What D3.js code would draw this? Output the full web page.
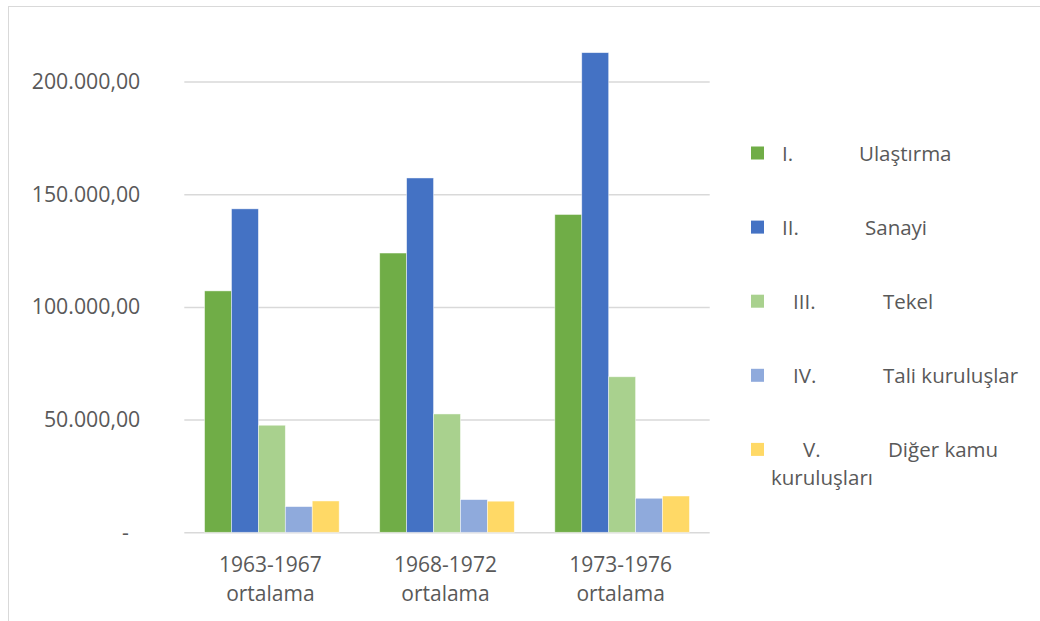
<!DOCTYPE html>
<html>
<head>
<meta charset="utf-8">
<script src="https://cdn.jsdelivr.net/npm/d3@7"></script>
<style>
  html, body { margin: 0; padding: 0; background: #fff; }
  svg { display: block; }
  text { font-family: "Open Sans", "Noto Sans", sans-serif; fill: #595959; }
</style>
</head>
<body>
<svg id="chart" width="1040" height="621"></svg>
<script>
// Periods on the x axis (two-line labels)
const categories = ["1963-1967 ortalama", "1968-1972 ortalama", "1973-1976 ortalama"];
const categoryLines = [["1963-1967", "ortalama"], ["1968-1972", "ortalama"], ["1973-1976", "ortalama"]];

// Series
const seriesKeys = ["ulastirma", "sanayi", "tekel", "tali", "diger"];
const seriesNumerals = ["I.", "II.", "III.", "IV.", "V."];
const seriesNames = ["Ulaştırma", "Sanayi", "Tekel", "Tali kuruluşlar", "Diğer kamu"];
const seriesColors = ["#70ad47", "#4472c4", "#a9d18e", "#8faadc", "#ffd966"];

// Values per period
const ulastirma = [107100, 123900, 141000];
const sanayi    = [143500, 157200, 212800];
const tekel     = [47500, 52500, 69000];
const tali      = [11400, 14500, 15100];
const diger     = [13900, 13800, 16100];

const yTicks = [0, 50000, 100000, 150000, 200000];

const valuesByKey = { ulastirma, sanayi, tekel, tali, diger };

const svg = d3.select("#chart");

// Chart area border
svg.append("rect")
  .attr("x", 8.5).attr("y", 6.5)
  .attr("width", 1100).attr("height", 700)
  .attr("fill", "none").attr("stroke", "#d9d9d9").attr("stroke-width", 1);

const plot = { left: 184.3, right: 709.7, top: 81.5, bottom: 532.3 };

const y = d3.scaleLinear().domain([0, 200000]).range([plot.bottom, plot.top]);

const x0 = d3.scaleBand()
  .domain(categories)
  .range([plot.left, plot.right])
  .paddingInner(0.2314)
  .paddingOuter(0.1157);

const x1 = d3.scaleBand()
  .domain(seriesKeys)
  .range([0, x0.bandwidth()])
  .padding(0);

// Gridlines
const grid = svg.append("g")
  .attr("transform", `translate(${plot.left},0)`)
  .call(d3.axisLeft(y).tickValues(yTicks).tickSize(-(plot.right - plot.left)).tickFormat(""));
grid.select(".domain").remove();
grid.selectAll("line").attr("stroke", "#d9d9d9").attr("stroke-width", 1.5);

// Y axis labels (Turkish number format, zero shown as a dash)
const trFormat = d3.formatLocale({ decimal: ",", thousands: ".", grouping: [3], currency: ["", ""] }).format(",.2f");
const fmt = v => v === 0 ? "-" : trFormat(v);
const yAxis = svg.append("g")
  .attr("transform", `translate(${plot.left},0)`)
  .call(d3.axisLeft(y).tickValues(yTicks).tickSize(0).tickPadding(44).tickFormat(fmt));
yAxis.select(".domain").remove();
yAxis.selectAll("text")
  .style("font-size", "21.3px")
  .attr("fill", "#595959")
  .attr("dx", d => d === 0 ? -11.5 : 0);

// Bars
const groups = svg.append("g").selectAll("g")
  .data(categories)
  .join("g")
  .attr("transform", d => `translate(${x0(d)},0)`);

groups.selectAll("rect")
  .data((d, i) => seriesKeys.map((k, j) => ({ key: k, value: valuesByKey[k][i], color: seriesColors[j] })))
  .join("rect")
  .attr("x", d => x1(d.key))
  .attr("y", d => y(d.value))
  .attr("width", x1.bandwidth())
  .attr("height", d => y(0) - y(d.value))
  .attr("fill", d => d.color)
  .attr("stroke", "#ffffff")
  .attr("stroke-opacity", 0.6)
  .attr("stroke-width", 0.75);

// X axis labels
const xLab = svg.append("g").selectAll("text")
  .data(categories)
  .join("text")
  .attr("x", d => x0(d) + x0.bandwidth() / 2 - 1.5)
  .attr("y", 572)
  .attr("text-anchor", "middle")
  .style("font-size", "21px");
xLab.selectAll("tspan")
  .data((d, i) => categoryLines[i])
  .join("tspan")
  .attr("x", function () { return d3.select(this.parentNode).attr("x"); })
  .attr("dy", (d, i) => i === 0 ? 0 : 29)
  .text(d => d);

// Legend
const legendX = 751, legendY = 153, legendStep = 74.1;
const numeralOffsets = [31, 31, 42, 42, 52];
const nameOffsets = [108, 114, 132, 132, 137];
const legend = svg.append("g").selectAll("g")
  .data(seriesKeys)
  .join("g")
  .attr("transform", (d, i) => `translate(${legendX},${legendY + i * legendStep})`);

legend.append("rect")
  .attr("x", 0).attr("y", -6.5)
  .attr("width", 13).attr("height", 13)
  .attr("fill", (d, i) => seriesColors[i]);

legend.append("text")
  .attr("x", (d, i) => numeralOffsets[i])
  .attr("y", 7.5)
  .style("font-size", "20.5px")
  .text((d, i) => seriesNumerals[i]);

legend.append("text")
  .attr("x", (d, i) => nameOffsets[i])
  .attr("y", 7.5)
  .style("font-size", "20.5px")
  .text((d, i) => seriesNames[i]);

// Wrapped second line of the last entry
legend.filter((d, i) => i === 4).append("text")
  .attr("x", 20)
  .attr("y", 36)
  .style("font-size", "20.5px")
  .text("kuruluşları");
</script>
</body>
</html>
